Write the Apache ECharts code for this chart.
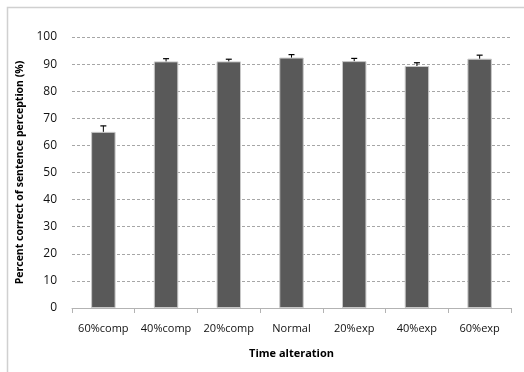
<!DOCTYPE html>
<html>
<head>
<meta charset="utf-8">
<script src="https://cdn.jsdelivr.net/npm/echarts@6/dist/echarts.min.js"></script>
<style>
  html, body { margin: 0; padding: 0; background: #fff; }
  #chart { width: 524px; height: 372px; }
</style>
</head>
<body>
<div id="chart"></div>
<script>
// Time-alteration conditions on the x axis
var categories = ['60%comp', '40%comp', '20%comp', 'Normal', '20%exp', '40%exp', '60%exp'];
// Mean percent correct per condition
var meanScores = [65.0, 91.0, 91.0, 92.4, 91.1, 89.3, 92.0];
// Upper error (standard error) per condition
var errorUp = [2.2, 1.0, 0.8, 1.1, 1.0, 1.2, 1.3];
// Y axis tick values
var yTicks = [0, 10, 20, 30, 40, 50, 60, 70, 80, 90, 100];

var fontFamily = '"Open Sans", "Liberation Sans", sans-serif';

var errorData = categories.map(function (c, i) {
  return [i, meanScores[i], meanScores[i] + errorUp[i]];
});

var chart = echarts.init(document.getElementById('chart'));
chart.setOption({
  animation: false,
  backgroundColor: '#ffffff',
  graphic: [{
    type: 'rect',
    shape: { x: 7.5, y: 7.5, width: 540, height: 400 },
    style: { fill: 'none', stroke: '#d0d0d0', lineWidth: 1.5 },
    silent: true
  }],
  grid: { left: 72, right: 13, top: 37, bottom: 64 },
  xAxis: {
    type: 'category',
    data: categories,
    name: 'Time alteration',
    nameLocation: 'middle',
    nameGap: 40,
    nameTextStyle: { fontFamily: fontFamily, fontSize: 11, fontWeight: 'bold', color: '#000' },
    axisLine: { lineStyle: { color: '#b3b3b3', width: 1 } },
    axisTick: { show: true, length: 5, lineStyle: { color: '#b3b3b3' } },
    axisLabel: { interval: 0, fontFamily: fontFamily, fontSize: 11, color: '#111', margin: 15 }
  },
  yAxis: {
    type: 'value',
    min: yTicks[0],
    max: yTicks[yTicks.length - 1],
    interval: 10,
    name: 'Percent correct of sentence perception (%)',
    nameLocation: 'middle',
    nameGap: 43,
    nameRotate: 90,
    nameTextStyle: { fontFamily: fontFamily, fontSize: 10.5, fontWeight: 'bold', color: '#000' },
    axisLine: { show: false },
    axisTick: { show: false },
    axisLabel: { fontFamily: fontFamily, fontSize: 12, color: '#111', margin: 15 },
    splitLine: { lineStyle: { color: '#a6a6a6', type: [3, 2], width: 1 } }
  },
  series: [{
    type: 'bar',
    data: meanScores,
    barWidth: '39%',
    itemStyle: { color: '#595959', borderColor: '#c8c8c8', borderWidth: 1 },
    z: 2
  }, {
    type: 'custom',
    data: errorData,
    z: 3,
    renderItem: function (params, api) {
      var x = api.value(0);
      var base = api.coord([x, api.value(1)]);
      var top = api.coord([x, api.value(2)]);
      var cap = 3;
      return {
        type: 'group',
        children: [{
          type: 'line',
          shape: { x1: base[0], y1: base[1], x2: top[0], y2: top[1] },
          style: { stroke: '#000', lineWidth: 1 }
        }, {
          type: 'line',
          shape: { x1: top[0] - cap, y1: top[1], x2: top[0] + cap, y2: top[1] },
          style: { stroke: '#000', lineWidth: 1.2 }
        }]
      };
    }
  }]
});
</script>
</body>
</html>
